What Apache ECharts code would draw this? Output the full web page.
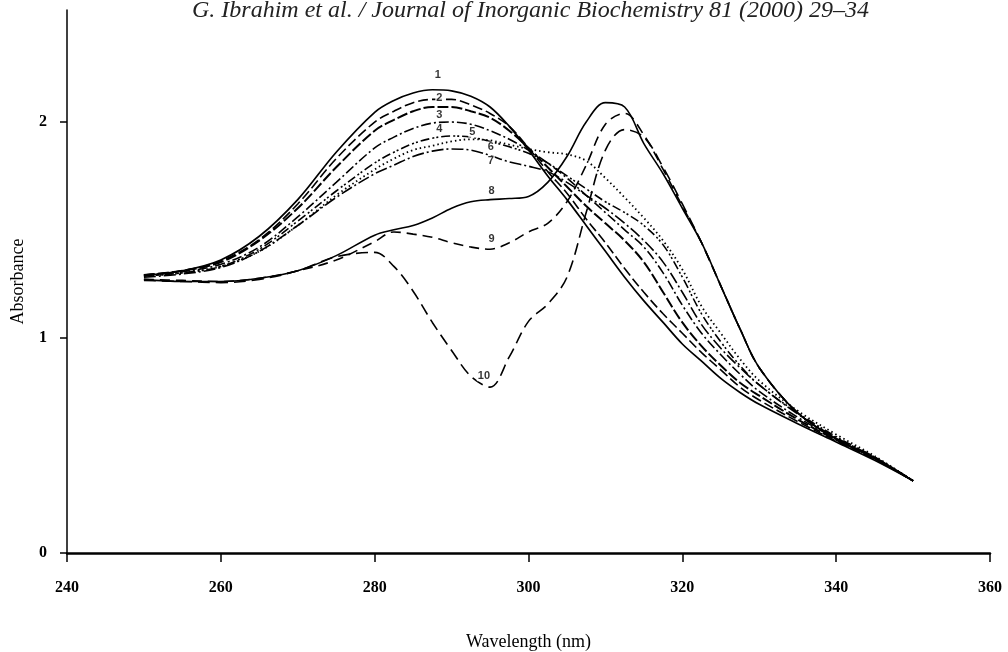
<!DOCTYPE html>
<html>
<head>
<meta charset="utf-8">
<script src="https://cdn.jsdelivr.net/npm/echarts@6/dist/echarts.min.js"></script>
<style>
html,body{margin:0;padding:0;background:#fff;}
#chart{width:1008px;height:652px;}
</style>
</head>
<body>
<div id="chart"></div>
<script>
// wavelength grid (nm)
var wl = [250,255,260,265,270,275,280,282.5,285,287.5,290,292.5,295,297.5,300,302.5,305,307.5,310,312.5,315,317.5,320,322.5,325,327.5,330,335,340,345,350];

// absorbance for spectra 1..10
var c1 = [1.29,1.31,1.36,1.47,1.64,1.86,2.045,2.10,2.135,2.15,2.145,2.12,2.07,1.98,1.87,1.75,1.64,1.52,1.40,1.28,1.17,1.07,0.97,0.89,0.81,0.745,0.69,0.60,0.515,0.43,0.335];
var c2 = [1.29,1.31,1.355,1.455,1.62,1.83,2.0,2.05,2.09,2.105,2.105,2.08,2.04,1.98,1.88,1.77,1.67,1.55,1.44,1.32,1.21,1.11,1.02,0.93,0.85,0.77,0.71,0.61,0.52,0.435,0.335];
var c3 = [1.29,1.31,1.35,1.45,1.60,1.79,1.96,2.01,2.05,2.07,2.07,2.05,2.02,1.96,1.88,1.79,1.70,1.61,1.53,1.45,1.35,1.21,1.07,0.96,0.87,0.79,0.73,0.62,0.525,0.44,0.335];
var c4 = [1.29,1.305,1.34,1.42,1.56,1.72,1.88,1.93,1.97,1.995,2.0,1.99,1.96,1.92,1.87,1.81,1.74,1.66,1.58,1.50,1.42,1.30,1.15,1.02,0.92,0.83,0.75,0.63,0.53,0.44,0.335];
var c5 = [1.285,1.30,1.33,1.41,1.54,1.68,1.81,1.86,1.90,1.925,1.935,1.93,1.91,1.885,1.855,1.81,1.75,1.69,1.63,1.58,1.52,1.43,1.28,1.11,0.98,0.87,0.78,0.65,0.54,0.445,0.335];
var c6 = [1.285,1.30,1.33,1.40,1.52,1.66,1.78,1.83,1.87,1.89,1.91,1.92,1.915,1.895,1.875,1.86,1.85,1.82,1.74,1.65,1.555,1.45,1.316,1.145,1.02,0.90,0.80,0.66,0.55,0.45,0.335];
var c7 = [1.28,1.295,1.325,1.40,1.52,1.65,1.76,1.80,1.84,1.865,1.875,1.87,1.845,1.815,1.795,1.77,1.72,1.66,1.60,1.53,1.45,1.35,1.21,1.06,0.95,0.86,0.78,0.645,0.535,0.445,0.335];
var c8 = [1.27,1.26,1.26,1.275,1.31,1.38,1.475,1.50,1.52,1.555,1.60,1.63,1.64,1.645,1.655,1.72,1.84,2.0,2.09,2.07,1.90,1.76,1.60,1.44,1.24,1.04,0.86,0.65,0.53,0.44,0.335];
var c9 = [1.27,1.265,1.26,1.275,1.31,1.36,1.445,1.49,1.48,1.465,1.44,1.42,1.41,1.44,1.49,1.53,1.63,1.80,1.99,2.04,1.94,1.78,1.61,1.44,1.24,1.04,0.86,0.65,0.53,0.44,0.335];
var c10 = [1.265,1.26,1.255,1.27,1.31,1.375,1.395,1.33,1.215,1.07,0.94,0.82,0.77,0.91,1.075,1.155,1.28,1.58,1.87,1.965,1.93,1.79,1.62,1.44,1.24,1.04,0.86,0.65,0.53,0.44,0.335];

// curve number labels (wavelength, absorbance)
var labelText = ['1','2','3','4','5','6','7','8','9','10'];
var labelX = [288.2,288.4,288.4,288.4,292.7,295.1,295.1,295.2,295.2,294.2];
var labelY = [2.22,2.112,2.033,1.967,1.953,1.884,1.819,1.679,1.456,0.823];

var xTicks = [240,260,280,300,320,340,360];
var yTicks = [0,1,2];

var curves = [c1,c2,c3,c4,c5,c6,c7,c8,c9,c10];
var dashes = ['solid',[10,4],[11,3],[10,3,2,3],[9,3,2,2,2,3],[1.5,3],[12,3,2,3],'solid',[10,6],[12,6]];
var widths = [1.7,1.6,2,1.6,1.6,1.8,1.6,1.6,1.6,1.6];

var myChart = echarts.init(document.getElementById('chart'));

var series = [];
for (var k = 0; k < curves.length; k++) {
	var pts = [];
	for (var i = 0; i < wl.length; i++) {
		pts.push([wl[i], curves[k][i]]);
	}
	series.push({
		name: labelText[k],
		type: 'line',
		data: pts,
		smooth: 0.35,
		showSymbol: false,
		silent: true,
		lineStyle: {color: '#000', width: widths[k], type: dashes[k]}
	});
}

var labelPts = [];
for (var j = 0; j < labelText.length; j++) {
	labelPts.push([labelX[j], labelY[j], labelText[j]]);
}
series.push({
	type: 'scatter',
	data: labelPts,
	symbolSize: 0.1,
	z: 10,
	itemStyle: {color: 'rgba(0,0,0,0)'},
	label: {
		show: true,
		position: 'inside',
		formatter: function (p) { return p.value[2]; },
		color: '#000',
		fontFamily: 'Liberation Sans',
		fontWeight: 'bold',
		fontSize: 11,
		backgroundColor: '#fff',
		padding: [0, 1]
	}
});

var option = {
	animation: false,
	backgroundColor: '#fff',
	title: {
		text: 'G. Ibrahim et al. / Journal of Inorganic Biochemistry 81 (2000) 29–34',
		left: 187,
		top: -6,
		textStyle: {
			fontFamily: 'Liberation Serif',
			fontStyle: 'italic',
			fontWeight: 'normal',
			fontSize: 24,
			color: '#222'
		}
	},
	grid: {left: 67, right: 18, top: 10, bottom: 99, outerBoundsMode: 'none'},
	xAxis: {
		type: 'value',
		min: 240,
		max: 360,
		interval: 20,
		name: 'Wavelength (nm)',
		nameLocation: 'middle',
		nameGap: 80,
		nameTextStyle: {fontFamily: 'Liberation Serif', fontSize: 18, color: '#000'},
		axisLine: {lineStyle: {color: '#000', width: 2.5}},
		axisTick: {length: 9, lineStyle: {color: '#000', width: 1.5}, customValues: xTicks},
		axisLabel: {
			customValues: xTicks,
			margin: 27,
			fontFamily: 'Liberation Serif',
			fontWeight: 'bold',
			fontSize: 16,
			color: '#000'
		},
		splitLine: {show: false}
	},
	yAxis: {
		type: 'value',
		min: 0,
		max: 2.52,
		interval: 1,
		name: 'Absorbance',
		nameLocation: 'middle',
		nameGap: 40,
		nameRotate: 90,
		nameTextStyle: {fontFamily: 'Liberation Serif', fontSize: 18, color: '#000'},
		axisLine: {show: true, lineStyle: {color: '#000', width: 1.5}},
		axisTick: {show: true, length: 7, lineStyle: {color: '#000', width: 1.5}, customValues: yTicks},
		axisLabel: {
			customValues: yTicks,
			margin: 20,
			fontFamily: 'Liberation Serif',
			fontWeight: 'bold',
			fontSize: 16,
			color: '#000'
		},
		splitLine: {show: false}
	},
	series: series
};
myChart.setOption(option);
</script>
</body>
</html>
